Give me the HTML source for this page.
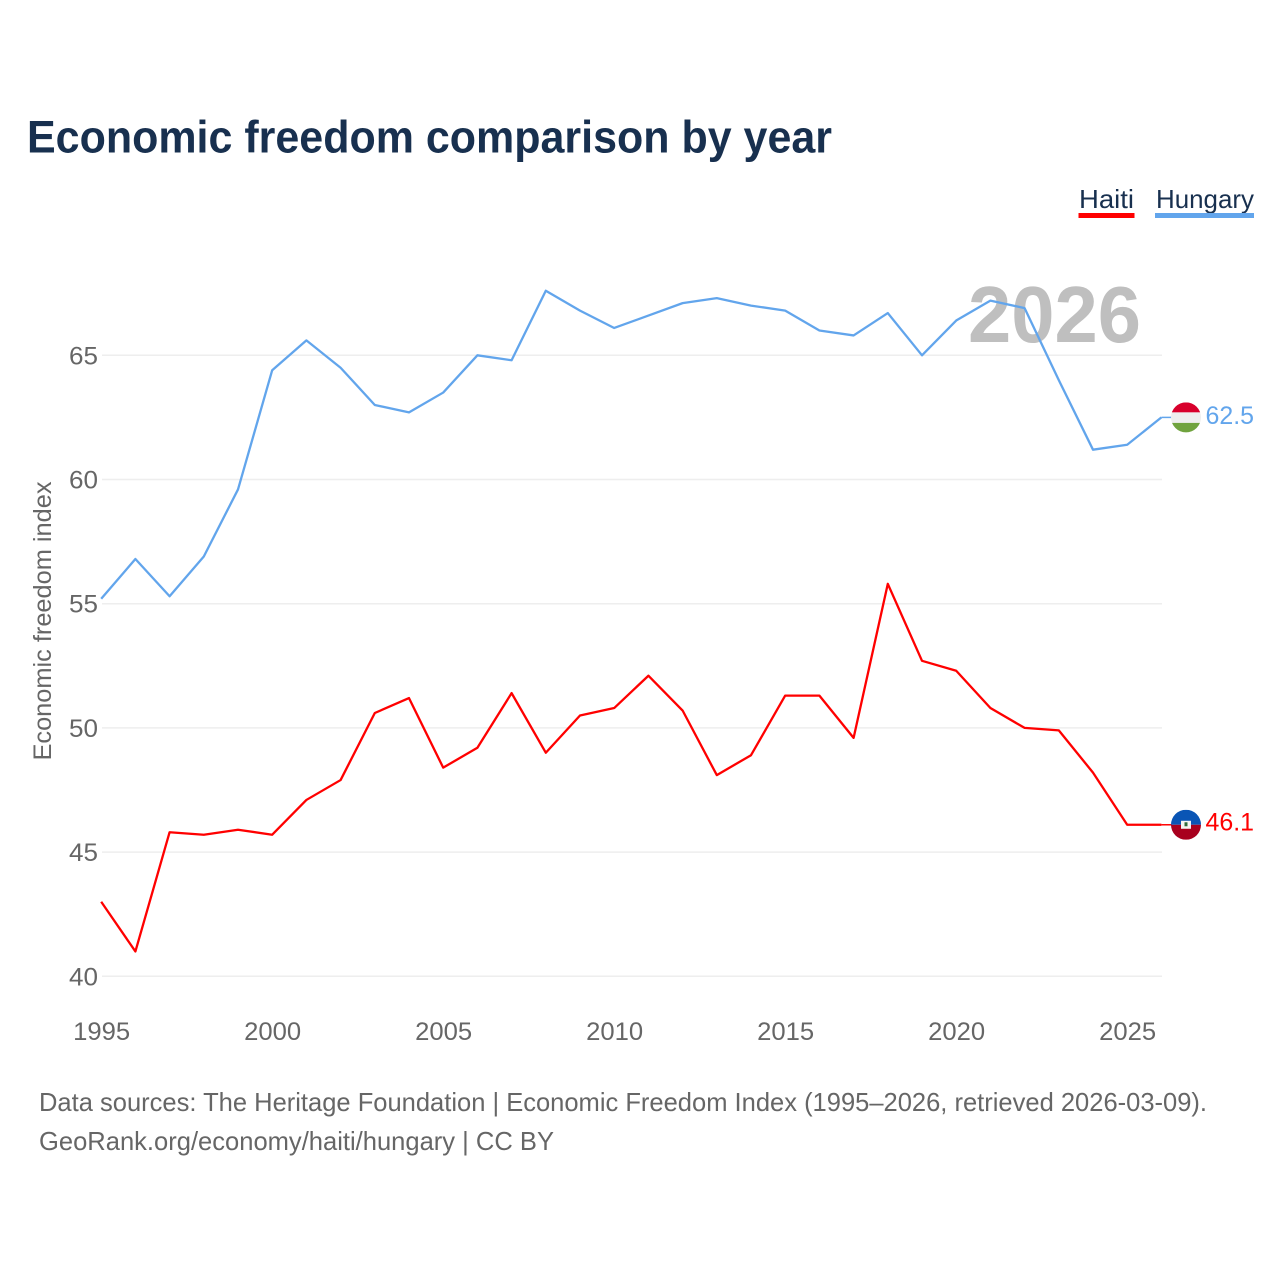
<!DOCTYPE html>
<html lang="en">
<head>
<meta charset="utf-8">
<title>Economic freedom comparison by year</title>
<style>
html,body{margin:0;padding:0;background:#fff;width:1280px;height:1280px;overflow:hidden}
svg{display:block}
text{font-family:"Liberation Sans",sans-serif}
</style>
</head>
<body>
<svg id="chart" width="1280" height="1280" viewBox="0 0 1280 1280" xmlns="http://www.w3.org/2000/svg">
  <rect width="1280" height="1280" fill="#fff"/>
  <text x="27" y="152.500" font-size="45" font-weight="700" fill="#18304f" textLength="805" lengthAdjust="spacingAndGlyphs">Economic freedom comparison by year</text>
  <g id="legend">
    <g>
      <text x="1079" y="208" font-size="26" fill="#18304f" textLength="55" lengthAdjust="spacingAndGlyphs">Haiti</text>
      <rect x="1078.500" y="213" width="56" height="5" fill="#ff0000"/>
    </g>
    <g>
      <text x="1156" y="208" font-size="26" fill="#18304f" textLength="98" lengthAdjust="spacingAndGlyphs">Hungary</text>
      <rect x="1155" y="213" width="99" height="5" fill="#62a5ec"/>
    </g>
  </g>
  <g id="grid"></g>
  <text x="968" y="342" font-size="80" font-weight="700" fill="#bfbfbf" textLength="173" lengthAdjust="spacingAndGlyphs">2026</text>
  <g id="yticks"></g>
  <g id="xticks"></g>
  <text transform="translate(51,621) rotate(-90)" text-anchor="middle" font-size="25" fill="#666" textLength="279" lengthAdjust="spacingAndGlyphs">Economic freedom index</text>
  <g id="series"></g>
  <g id="endlabels"></g>
  <text x="39" y="1111" font-size="26" fill="#666" textLength="1168" lengthAdjust="spacingAndGlyphs">Data sources: The Heritage Foundation | Economic Freedom Index (1995–2026, retrieved 2026-03-09).</text>
  <text x="39" y="1150" font-size="26" fill="#666" textLength="515" lengthAdjust="spacingAndGlyphs">GeoRank.org/economy/haiti/hungary | CC BY</text>
  <defs>
    <clipPath id="clip-hu"><circle id="clip-hu-circle" cx="1186" cy="417.500" r="15"/></clipPath>
    <clipPath id="clip-ht"><circle id="clip-ht-circle" cx="1186" cy="824" r="15"/></clipPath>
  </defs>
</svg>
<script>
const years = [1995,1996,1997,1998,1999,2000,2001,2002,2003,2004,2005,2006,2007,2008,2009,2010,2011,2012,2013,2014,2015,2016,2017,2018,2019,2020,2021,2022,2023,2024,2025,2026];
const hungaryValues = [55.2,56.8,55.3,56.9,59.6,64.4,65.6,64.5,63.0,62.7,63.5,65.0,64.8,67.6,66.8,66.1,66.6,67.1,67.3,67.0,66.8,66.0,65.8,66.7,65.0,66.4,67.2,66.9,64.0,61.2,61.4,62.5];
const haitiValues = [43.0,41.0,45.8,45.7,45.9,45.7,47.1,47.9,50.6,51.2,48.4,49.2,51.4,49.0,50.5,50.8,52.1,50.7,48.1,48.9,51.3,51.3,49.6,55.8,52.7,52.3,50.8,50.0,49.9,48.2,46.1,46.1];
const yTickValues = [40,45,50,55,60,65];
const xTickValues = [1995,2000,2005,2010,2015,2020,2025];

const NS = 'http://www.w3.org/2000/svg';
const xScale = function (year) { return 101.2 + (year - 1995) * 34.2; };
const yScale = function (value) { return 976.3 - (value - 40) * 24.84; };

function make(tag, attrs, parent) {
  const el = document.createElementNS(NS, tag);
  for (const k in attrs) el.setAttribute(k, attrs[k]);
  parent.appendChild(el);
  return el;
}

const grid = document.getElementById('grid');
const yticks = document.getElementById('yticks');
const xticks = document.getElementById('xticks');
const series = document.getElementById('series');
const endlabels = document.getElementById('endlabels');

yTickValues.forEach(function (v) {
  const line = make('line', {x1: 102, x2: 1162, y1: yScale(v), y2: yScale(v), stroke: '#eeeeee', 'stroke-width': 1.5}, grid);
  
  
  const t = make('text', {x: 98, y: yScale(v) + 9, 'text-anchor': 'end', 'font-size': 25, fill: '#666', textLength: 29, lengthAdjust: 'spacingAndGlyphs'}, yticks);
  t.textContent = v;
  
  
});

xTickValues.forEach(function (y) {
  const t = make('text', {x: xScale(y) + 0.5, y: 1040, 'text-anchor': 'middle', 'font-size': 25, fill: '#666', textLength: 57, lengthAdjust: 'spacingAndGlyphs'}, xticks);
  t.textContent = y;
  
  
});

function drawSeries(values, color, name) {
  const pts = values.map(function (v, i) { return xScale(years[i]).toFixed(2) + ',' + yScale(v).toFixed(2); }).join(' ');
  const line = make('polyline', {points: pts, fill: 'none', stroke: color, 'stroke-width': 2.3, 'stroke-linejoin': 'round'}, series);
  
  
  const lastY = yScale(values[values.length - 1]);
  const lastX = xScale(years[years.length - 1]);
  const conn = make('line', {x1: lastX, x2: 1172, y1: lastY, y2: lastY, stroke: color, 'stroke-width': 1.5}, series);
  
  
  const label = make('text', {x: 1205.5, y: lastY + (name === 'haiti' ? 5.5 : 6.5), 'font-size': 25, fill: color, textLength: 48.5, lengthAdjust: 'spacingAndGlyphs'}, endlabels);
  label.textContent = values[values.length - 1].toFixed(1);
  
  
}
drawSeries(haitiValues, '#ff0000', 'haiti');
drawSeries(hungaryValues, '#62a5ec', 'hungary');

const huY = yScale(hungaryValues[hungaryValues.length - 1]);
const htY = yScale(haitiValues[haitiValues.length - 1]);
document.getElementById('clip-hu-circle').setAttribute('cy', huY);
document.getElementById('clip-ht-circle').setAttribute('cy', htY);

const huFlag = make('g', {'clip-path': 'url(#clip-hu)'}, endlabels);


make('rect', {x: 1171, y: huY - 15, width: 30, height: 10, fill: '#d8002c'}, huFlag);
make('rect', {x: 1171, y: huY - 5, width: 30, height: 10.5, fill: '#eeeeee'}, huFlag);
make('rect', {x: 1171, y: huY + 5.5, width: 30, height: 10, fill: '#70a33e'}, huFlag);

const htFlag = make('g', {'clip-path': 'url(#clip-ht)'}, endlabels);


make('rect', {x: 1171, y: htY - 15, width: 30, height: 15, fill: '#0a55b5'}, htFlag);
make('rect', {x: 1171, y: htY, width: 30, height: 15, fill: '#a8001e'}, htFlag);
make('rect', {x: 1181, y: htY - 4, width: 10, height: 8, fill: '#f4f4f4'}, htFlag);
make('rect', {x: 1184.5, y: htY - 2.5, width: 3, height: 4, fill: '#2f6b3c'}, htFlag);
</script>
</body>
</html>
